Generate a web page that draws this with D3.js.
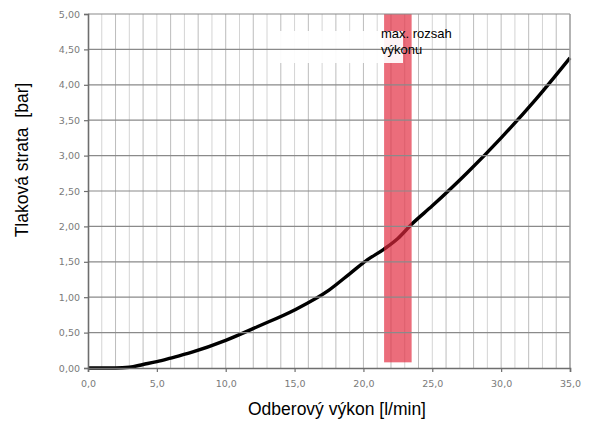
<!DOCTYPE html>
<html lang="sk">
<head>
<meta charset="utf-8">
<script src="https://d3js.org/d3.v7.min.js"></script>
<style>
  body { margin: 0; background: #fff; }
</style>
</head>
<body>
<script>
  // flow [l/min] vs pressure loss [bar]
  const flow = [0, 2, 3, 4, 5, 6, 7.5, 10, 12.5, 15, 17.5, 19, 20.3, 21.5, 22.5, 23.5, 25, 27.5, 30, 32.5, 35];
  const loss = [0, 0, 0.01, 0.05, 0.09, 0.14, 0.22, 0.39, 0.6, 0.82, 1.1, 1.33, 1.53, 1.68, 1.83, 2.03, 2.29, 2.75, 3.25, 3.79, 4.38];
  const xTicks = [0, 5, 10, 15, 20, 25, 30, 35];
  const yTicks = [0, 0.5, 1, 1.5, 2, 2.5, 3, 3.5, 4, 4.5, 5];
  const band = [21.5, 23.5];      // max. rozsah výkonu
  const bandLow = 0.08;

  const width = 595, height = 421;
  const mLeft = 88, mRight = 570, mTop = 14, mBottom = 368;

  const x = d3.scaleLinear().domain([0, 35]).range([mLeft, mRight]);
  const y = d3.scaleLinear().domain([0, 5]).range([mBottom, mTop]);
  const fmtX = v => d3.format(".1f")(v).replace(".", ",");
  const fmtY = v => d3.format(".2f")(v).replace(".", ",");

  const svg = d3.select("body").append("svg")
    .attr("width", width)
    .attr("height", height)
    .style("font-family", "Arial, 'Liberation Sans', sans-serif");

  // vertical grid, every 1 l/min
  svg.append("g").selectAll("line")
    .data(d3.range(1, 35))
    .enter().append("line")
    .attr("x1", d => x(d)).attr("x2", d => x(d))
    .attr("y1", mTop).attr("y2", mBottom)
    .attr("stroke", d => d % 2 === 0 ? "#bcbcbc" : "#d4d4d4")
    .attr("stroke-width", 1);

  // curve
  const line = d3.line()
    .x(d => x(d[0]))
    .y(d => y(d[1]))
    .curve(d3.curveMonotoneX);

  svg.append("path")
    .datum(flow.map((f, i) => [f, loss[i]]))
    .attr("d", line)
    .attr("fill", "none")
    .attr("stroke", "#000")
    .attr("stroke-width", 3.4)
    .attr("stroke-linejoin", "round");

  // max range band
  svg.append("rect")
    .attr("x", x(band[0]))
    .attr("y", y(5))
    .attr("width", x(band[1]) - x(band[0]))
    .attr("height", y(bandLow) - y(5))
    .attr("fill", "#e2283c")
    .attr("fill-opacity", 0.68);

  // white patch behind the label
  svg.append("rect")
    .attr("x", 276)
    .attr("y", 31)
    .attr("width", 127)
    .attr("height", 32)
    .attr("fill", "#fff")
    .attr("fill-opacity", 0.92);

  // horizontal grid
  svg.append("g").selectAll("line")
    .data(yTicks.slice(1))
    .enter().append("line")
    .attr("x1", mLeft).attr("x2", mRight)
    .attr("y1", d => y(d)).attr("y2", d => y(d))
    .attr("stroke", "#8a8a8a")
    .attr("stroke-width", 1.2);

  // frame
  svg.append("line")
    .attr("x1", mRight).attr("x2", mRight)
    .attr("y1", mTop).attr("y2", mBottom)
    .attr("stroke", "#9a9a9a").attr("stroke-width", 1.5);

  // axes
  const xAxis = d3.axisBottom(x).tickValues(xTicks).tickFormat(fmtX).tickSize(4).tickPadding(8);
  const yAxis = d3.axisLeft(y).tickValues(yTicks).tickFormat(fmtY).tickSize(4).tickPadding(4);

  const gx = svg.append("g")
    .attr("transform", `translate(0,${mBottom})`)
    .call(xAxis);
  const gy = svg.append("g")
    .attr("transform", `translate(${mLeft},0)`)
    .call(yAxis);

  [gx, gy].forEach(g => {
    g.select(".domain").attr("stroke", "#6e6e6e").attr("stroke-width", 1.6);
    g.selectAll(".tick line").attr("stroke", "#6e6e6e").attr("stroke-width", 1.2);
    g.selectAll(".tick text")
      .attr("fill", "#7a7a7a")
      .style("font-size", "9.5px")
      .style("font-family", "'DejaVu Sans', sans-serif");
  });

  // band label
  svg.append("text")
    .attr("x", 381).attr("y", 38)
    .style("font-size", "13px")
    .attr("fill", "#000")
    .text("max. rozsah");
  svg.append("text")
    .attr("x", 381).attr("y", 54)
    .style("font-size", "13px")
    .attr("fill", "#000")
    .text("výkonu");

  // axis titles
  svg.append("text")
    .attr("x", 337)
    .attr("y", 415)
    .attr("text-anchor", "middle")
    .style("font-size", "17.5px")
    .text("Odberový výkon [l/min]");

  svg.append("text")
    .attr("transform", "translate(28,160) rotate(-90)")
    .attr("text-anchor", "middle")
    .style("font-size", "17.5px")
    .style("white-space", "pre")
    .text("Tlaková strata  [bar]");
</script>
</body>
</html>
